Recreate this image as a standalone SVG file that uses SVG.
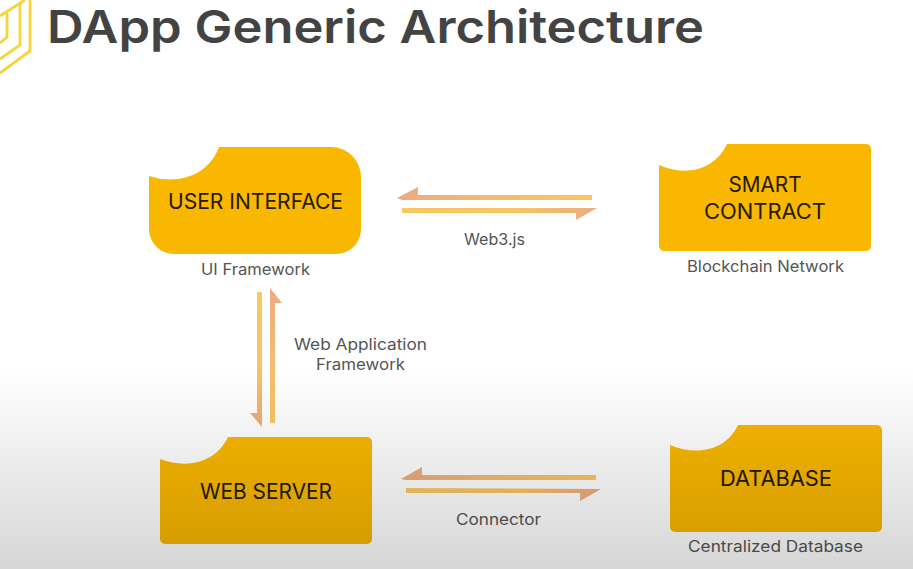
<svg xmlns="http://www.w3.org/2000/svg" width="913" height="569" viewBox="0 0 913 569">
<style>
text{font-family:Inter,"Liberation Sans",sans-serif}
.title{font-size:45px;font-weight:600;fill:#434343}
.box{fill:#f9b700}
.name{font-size:21.500px;font-weight:400;fill:#241a05;text-anchor:middle}
.sub{font-size:15.500px;font-weight:400;fill:#555;text-anchor:middle}
.logo{fill:none;stroke:#f6d43c;stroke-width:2.800}
</style>
<defs>
<linearGradient id="toR" x1="0" y1="0" x2="1" y2="0"><stop offset="0" stop-color="#f9c861"/><stop offset=".6" stop-color="#f8c363"/><stop offset="1" stop-color="#edaa82"/></linearGradient>
<linearGradient id="toL" x1="1" y1="0" x2="0" y2="0"><stop offset="0" stop-color="#f9c861"/><stop offset=".55" stop-color="#f3ba73"/><stop offset="1" stop-color="#edaa82"/></linearGradient>
<linearGradient id="toD" x1="0" y1="0" x2="0" y2="1"><stop offset="0" stop-color="#f9c861"/><stop offset=".6" stop-color="#f8c363"/><stop offset="1" stop-color="#edaa82"/></linearGradient>
<linearGradient id="toU" x1="0" y1="1" x2="0" y2="0"><stop offset="0" stop-color="#f9c861"/><stop offset=".5" stop-color="#f3ba73"/><stop offset="1" stop-color="#edaa82"/></linearGradient>
<linearGradient id="shade" x1="0" y1="0" x2="0" y2="1"><stop offset="0" stop-color="#000" stop-opacity="0"/><stop offset="1" stop-color="#000" stop-opacity=".16"/></linearGradient>
</defs>
<rect width="913" height="569" fill="#fff"/>
<g id="logo">
<path class="logo" d="M30 0V51L0 73M20 3V45L0 59M7 13V37L0 43M0 16L25 0"/>
</g>
<text class="title" x="47" y="43" textLength="657" lengthAdjust="spacingAndGlyphs">DApp Generic Architecture</text>
<g id="connectors">
<polygon fill="url(#toL)" points="592,195 418,195 418,187 397,198 402,200 592,200"/>
<polygon fill="url(#toR)" points="402,208 597,208 576,220 576,213 402,213"/>
<polygon fill="url(#toD)" points="257,292 262,292 262,427 250,413 257,413"/>
<polygon fill="url(#toU)" points="270,423 270,288 282,303 275,303 275,423"/>
<polygon fill="url(#toL)" points="596,475 422,475 422,467 401,479 406,480 596,480"/>
<polygon fill="url(#toR)" points="406,488 601,489 580,501 580,493 406,493"/>
<text class="sub" x="494.500" y="245" textLength="61" lengthAdjust="spacingAndGlyphs">Web3.js</text>
<text class="sub" x="360.500" y="350" textLength="133" lengthAdjust="spacingAndGlyphs">Web Application</text>
<text class="sub" x="360.500" y="370" textLength="89" lengthAdjust="spacingAndGlyphs">Framework</text>
<text class="sub" x="498.500" y="525" textLength="85" lengthAdjust="spacingAndGlyphs">Connector</text>
</g>
<g id="user-interface">
<path class="box" d="M149 176C180 186 209 174 219 147H331A30 30 0 0 1 361 177V229A25 25 0 0 1 336 254H174A25 25 0 0 1 149 229Z"/>
<text class="name" x="255.500" y="209" textLength="175" lengthAdjust="spacingAndGlyphs">USER INTERFACE</text>
<text class="sub" x="255.500" y="275" textLength="109" lengthAdjust="spacingAndGlyphs">UI Framework</text>
</g>
<g id="smart-contract">
<path class="box" d="M659 165C688 178 716 168 727 144H866A5 5 0 0 1 871 149V246A5 5 0 0 1 866 251H664A5 5 0 0 1 659 246Z"/>
<text class="name" x="765" y="192" textLength="73" lengthAdjust="spacingAndGlyphs">SMART</text>
<text class="name" x="765" y="219" textLength="122" lengthAdjust="spacingAndGlyphs">CONTRACT</text>
<text class="sub" x="765.500" y="272" textLength="157" lengthAdjust="spacingAndGlyphs">Blockchain Network</text>
</g>
<g id="web-server">
<path class="box" d="M160 459C189 470 217 461 228 437H367A5 5 0 0 1 372 442V539A5 5 0 0 1 367 544H165A5 5 0 0 1 160 539Z"/>
<text class="name" x="266" y="499" textLength="132" lengthAdjust="spacingAndGlyphs">WEB SERVER</text>
</g>
<g id="database">
<path class="box" d="M670 445C699 457 727 449 738 425H877A5 5 0 0 1 882 430V527A5 5 0 0 1 877 532H675A5 5 0 0 1 670 527Z"/>
<text class="name" x="776" y="486" textLength="112" lengthAdjust="spacingAndGlyphs">DATABASE</text>
<text class="sub" x="775.500" y="552" textLength="175" lengthAdjust="spacingAndGlyphs">Centralized Database</text>
</g>
<rect id="shade-overlay" y="370" width="913" height="199" fill="url(#shade)"/>
</svg>
